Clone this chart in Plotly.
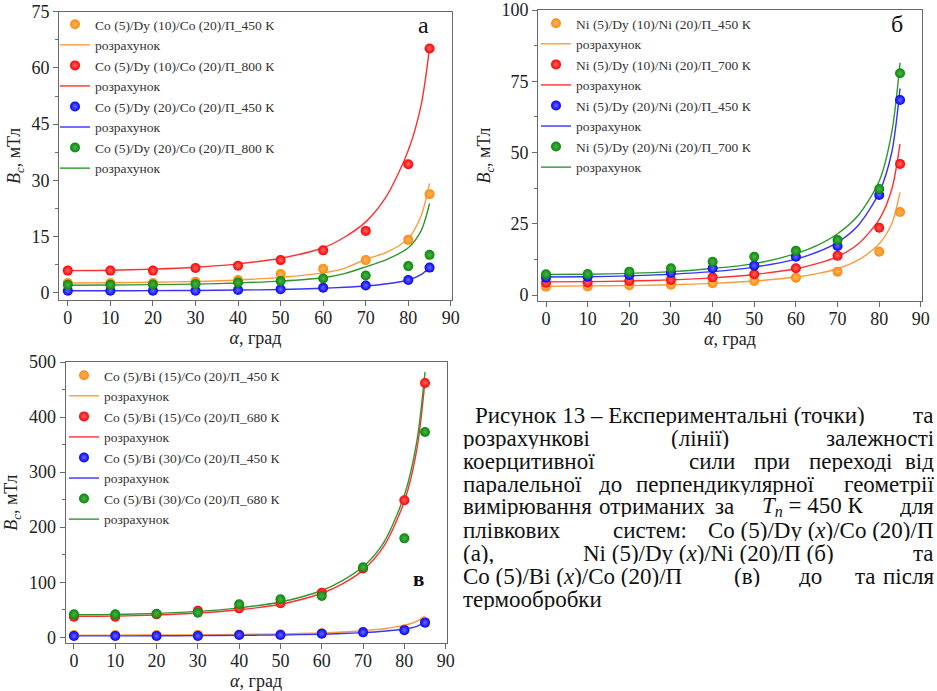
import plotly.graph_objects as go

# ---------------- data ----------------
alpha_exp = [0, 10, 20, 30, 40, 50, 60, 70, 80, 85]
alpha_calc = [0, 10, 20, 30, 40, 50, 60, 65, 70, 75, 80, 83, 85]

# panel а : Co (5)/Dy (x)/Co (20)/П
a_names = ["Co (5)/Dy (10)/Co (20)/П_450 К", "Co (5)/Dy (10)/Co (20)/П_800 К",
           "Co (5)/Dy (20)/Co (20)/П_450 К", "Co (5)/Dy (20)/Co (20)/П_800 К"]
a_exp_orange = [2.6, 2.6, 2.6, 2.9, 3.4, 5.0, 6.4, 8.7, 14.1, 26.3]
a_exp_red = [5.9, 5.9, 5.9, 6.6, 7.2, 8.7, 11.3, 16.5, 34.3, 65.2]
a_exp_blue = [0.5, 0.5, 0.5, 0.5, 0.7, 0.9, 1.3, 1.9, 3.4, 6.7]
a_exp_green = [2.1, 2.1, 2.2, 2.3, 2.7, 3.1, 3.8, 4.6, 7.1, 10.1]
a_calc_orange = [2.6, 2.65, 2.8, 3.0, 3.4, 4.1, 5.3, 6.5, 8.9, 10.8, 14.5, 20.5, 29.2]
a_calc_red = [5.9, 6.0, 6.3, 6.8, 7.7, 9.2, 12.0, 14.8, 18.9, 26.0, 38.0, 50.0, 65.5]
a_calc_blue = [0.5, 0.5, 0.55, 0.6, 0.7, 0.85, 1.2, 1.45, 1.8, 2.4, 3.4, 4.8, 6.7]
a_calc_green = [2.0, 2.05, 2.15, 2.3, 2.6, 3.1, 4.0, 5.1, 6.9, 8.9, 12.0, 16.5, 23.8]

# panel б : Ni (5)/Dy (x)/Ni (20)/П
b_names = ["Ni (5)/Dy (10)/Ni (20)/П_450 К", "Ni (5)/Dy (10)/Ni (20)/П_700 К",
           "Ni (5)/Dy (20)/Ni (20)/П_450 К", "Ni (5)/Dy (20)/Ni (20)/П_700 К"]
b_exp_orange = [2.9, 3.0, 3.4, 3.6, 4.1, 4.9, 6.1, 8.2, 15.2, 29.1]
b_exp_red = [4.3, 4.4, 4.9, 5.3, 6.2, 7.3, 9.4, 13.8, 23.6, 46.0]
b_exp_blue = [6.1, 6.4, 7.0, 7.8, 9.4, 10.3, 13.4, 17.2, 35.1, 68.4]
b_exp_green = [7.3, 7.4, 8.2, 9.4, 11.7, 13.4, 15.5, 19.3, 37.2, 77.8]
b_calc_orange = [3.1, 3.2, 3.3, 3.6, 4.1, 4.9, 6.3, 7.5, 9.2, 12.3, 18.0, 25.0, 36.0]
b_calc_red = [4.6, 4.7, 4.9, 5.3, 6.0, 7.2, 9.2, 11.0, 13.5, 18.0, 26.5, 37.0, 53.0]
b_calc_blue = [6.3, 6.4, 6.7, 7.3, 8.2, 9.8, 12.6, 15.0, 18.5, 24.5, 36.0, 50.0, 72.5]
b_calc_green = [7.2, 7.3, 7.6, 8.2, 9.3, 11.0, 14.5, 17.3, 21.5, 28.0, 40.0, 57.0, 81.5]

# panel в : Co (5)/Bi (x)/Co (20)/П
c_names = ["Co (5)/Bi (15)/Co (20)/П_450 К", "Co (5)/Bi (15)/Co (20)/П_680 К",
           "Co (5)/Bi (30)/Co (20)/П_450 К", "Co (5)/Bi (30)/Co (20)/П_680 К"]
c_exp_orange = [4.0, 4.0, 4.0, 4.5, 5.0, 5.5, 7.5, 10.0, 14.0, 28.0]
c_exp_red = [37.4, 37.4, 41.7, 48.3, 52.6, 61.7, 81.0, 125.0, 249.0, 462.0]
c_exp_blue = [2.4, 2.4, 2.4, 2.4, 4.2, 4.2, 6.6, 9.0, 13.0, 26.6]
c_exp_green = [41.7, 41.7, 42.9, 44.7, 59.9, 69.0, 75.0, 127.0, 179.7, 373.0]
c_calc_orange = [4.0, 4.0, 4.2, 4.6, 5.2, 6.2, 8.0, 9.5, 12.0, 15.5, 22.0, 29.0, 38.5]
c_calc_red = [38, 38.5, 40.5, 44, 50, 60, 80, 97, 122, 165, 247, 340, 465]
c_calc_blue = [2.5, 2.5, 2.7, 3.0, 3.5, 4.3, 5.6, 6.8, 8.5, 11.0, 15.0, 20.0, 27.0]
c_calc_green = [41, 41.5, 43.5, 47, 53.5, 64, 85, 103, 128, 172, 258, 355, 482]

calc_label = "розрахунок"

# ---------------- styling ----------------
marker_cols = ["#ff8a0a", "#ff0000", "#0000ff", "#078a07"]
marker_hi = ["#ffb766", "#ff6a6a", "#6a6aff", "#4fb04f"]
line_cols = ["#ff9a3a", "#ff3030", "#3535ff", "#2f962f"]
SERIF = "Liberation Serif"
W, H = 937, 691

fig = go.Figure()

panels = [
    ("x", "y", "legend", a_names,
     [a_exp_orange, a_exp_red, a_exp_blue, a_exp_green],
     [a_calc_orange, a_calc_red, a_calc_blue, a_calc_green]),
    ("x2", "y2", "legend2", b_names,
     [b_exp_orange, b_exp_red, b_exp_blue, b_exp_green],
     [b_calc_orange, b_calc_red, b_calc_blue, b_calc_green]),
    ("x3", "y3", "legend3", c_names,
     [c_exp_orange, c_exp_red, c_exp_blue, c_exp_green],
     [c_calc_orange, c_calc_red, c_calc_blue, c_calc_green]),
]

for xa, ya, lg, names, exps, calcs in panels:
    for i in range(4):
        fig.add_trace(go.Scatter(
            x=alpha_calc, y=calcs[i], mode="lines", name=calc_label,
            line=dict(color=line_cols[i], width=1.4, shape="spline", smoothing=0.8),
            xaxis=xa, yaxis=ya, legend=lg, legendrank=2 * i + 2))
    for i in range(4):
        fig.add_trace(go.Scatter(
            x=alpha_exp, y=exps[i], mode="markers", name=names[i],
            marker=dict(color=marker_cols[i], size=10,
                        gradient=dict(type="radial", color=marker_hi[i]),
                        line=dict(width=0)),
            xaxis=xa, yaxis=ya, legend=lg, legendrank=2 * i + 1))


def px_x(p):
    return p / W


def px_y(p):
    return 1 - p / H


axis_common = dict(
    showline=True, mirror=True, linecolor="#6a6a6a", linewidth=1.3,
    ticks="outside", ticklen=5, tickcolor="#6a6a6a", tickwidth=1.2,
    showgrid=False, zeroline=False, automargin=False,
    tickfont=dict(family=SERIF, size=18, color="#222"),
)
xtitle = dict(text="<i>α</i>, град", font=dict(family=SERIF, size=18, color="#222"), standoff=4)
ytitle = dict(text="<i>B</i><sub><i>c</i></sub>, мТл", font=dict(family=SERIF, size=18, color="#222"), standoff=6)

fig.update_layout(
    width=W, height=H, margin=dict(l=0, r=0, t=0, b=0),
    paper_bgcolor="white", plot_bgcolor="white",
    font=dict(family=SERIF),
    xaxis=dict(axis_common, domain=[px_x(59.3), px_x(451.7)], range=[-2, 90.2], dtick=10,
               anchor="y", title=xtitle, ticklabelstandoff=-4),
    yaxis=dict(axis_common, domain=[px_y(300), px_y(11.7)], range=[-1.95, 75], dtick=15,
               anchor="x", title=ytitle,
               minor=dict(ticks="outside", ticklen=3, dtick=7.5, tickcolor="#6a6a6a")),
    xaxis2=dict(axis_common, domain=[px_x(538.3), px_x(921.7)], range=[-1.85, 90.2], dtick=10,
                anchor="y2", title=xtitle, ticklabelstandoff=-4),
    yaxis2=dict(axis_common, domain=[px_y(301), px_y(10)], range=[-2.1, 100], dtick=25,
                anchor="x2", title=ytitle,
                minor=dict(ticks="outside", ticklen=3, dtick=12.5, tickcolor="#6a6a6a")),
    xaxis3=dict(axis_common, domain=[px_x(65.7), px_x(446.5)], range=[-2, 90.2], dtick=10,
                anchor="y3", title=xtitle, ticklabelstandoff=-4),
    yaxis3=dict(axis_common, domain=[px_y(643.3), px_y(362)], range=[-10.9, 500], dtick=100,
                anchor="x3", title=ytitle,
                minor=dict(ticks="outside", ticklen=3, dtick=50, tickcolor="#6a6a6a")),
    showlegend=True,
)

leg_common = dict(bgcolor="rgba(0,0,0,0)", borderwidth=0, xanchor="left", yanchor="top",
                  font=dict(family=SERIF, size=13.5, color="#333"), tracegroupgap=0,
                  traceorder="normal")
fig.update_layout(
    legend=dict(leg_common, x=px_x(55), y=px_y(9)),
    legend2=dict(leg_common, x=px_x(536), y=px_y(8)),
    legend3=dict(leg_common, x=px_x(64), y=px_y(360)),
)

annotations = [
    dict(text="а", x=px_x(423), y=px_y(25), font=dict(family=SERIF, size=24, color="#111")),
    dict(text="б", x=px_x(897), y=px_y(24), font=dict(family=SERIF, size=24, color="#111")),
    dict(text="<b>в</b>", x=px_x(418), y=px_y(579), font=dict(family=SERIF, size=21, color="#111")),
]
for a in annotations:
    a.update(xref="paper", yref="paper", showarrow=False, xanchor="center", yanchor="middle")

# caption, laid out word by word to imitate justified text
# (text, x in px, anchor)
caption_lines = [
    (415, [("Рисунок 13 – Експериментальні (точки)", 474, "left"), ("та", 935, "right")]),
    (438, [("розрахункові", 462, "left"), ("(лінії)", 700, "center"), ("залежності", 935, "right")]),
    (461, [("коерцитивної", 462, "left"), ("сили", 712, "center"), ("при", 772, "center"),
           ("переході", 850, "center"), ("від", 935, "right")]),
    (484, [("паралельної", 462, "left"), ("до", 610, "center"), ("перпендикулярної", 725, "center"),
           ("геометрії", 935, "right")]),
    (507, [("вимірювання", 462, "left"), ("отриманих", 652, "center"), ("за", 724, "center"),
           ("<i>T</i><sub><i>n</i></sub> = 450 К", 813, "center"), ("для", 935, "right")]),
    (530, [("плівкових", 462, "left"), ("систем:", 650, "center"),
           ("Co (5)/Dy (<i>x</i>)/Co (20)/П", 935, "right")]),
    (553, [("(а),", 462, "left"), ("Ni (5)/Dy (<i>x</i>)/Ni (20)/П (б)", 708, "center"),
           ("та", 935, "right")]),
    (576, [("Co (5)/Bi (<i>x</i>)/Co (20)/П", 462, "left"), ("(в)", 747, "center"),
           ("до", 810, "center"), ("та", 865, "center"), ("після", 935, "right")]),
    (599, [("термообробки", 462, "left")]),
]
for yy, words in caption_lines:
    for txt, xx, anc in words:
        annotations.append(dict(text=txt, x=px_x(xx), y=px_y(yy), xref="paper", yref="paper",
                                showarrow=False, xanchor=anc, yanchor="middle", borderpad=0,
                                height=21, valign="middle",
                                font=dict(family=SERIF, size=23, color="#111")))

fig.update_layout(annotations=annotations)

fig.write_html("out.html", config={"displayModeBar": False},
               post_script="document.body.style.margin='0';document.body.style.overflow='hidden';")
